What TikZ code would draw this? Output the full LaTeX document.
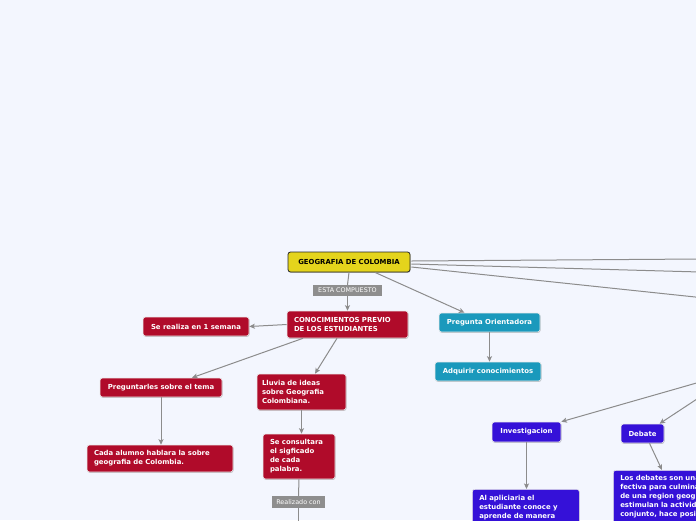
\documentclass[tikz,border=0pt]{standalone}
\usepackage{fontspec}
\setmainfont{DejaVu Sans}
\usetikzlibrary{arrows.meta,shadows,calc}
\definecolor{bgc}{HTML}{F3F6FE}
\definecolor{yel}{HTML}{E4D41C}
\definecolor{redc}{HTML}{B00B2A}
\definecolor{teal}{HTML}{1A99BC}
\definecolor{bluec}{HTML}{3511D8}
\definecolor{linec}{HTML}{8C8C8C}
\definecolor{lblc}{HTML}{8E8E8E}
\tikzset{
  box/.style={rectangle, rounded corners=2.5pt, draw=white!92!black, line width=0.6pt,
    text=white, inner xsep=0pt, inner ysep=0pt,
    font=\fontsize{6.9}{9}\selectfont\bfseries,
    drop shadow={shadow xshift=0.5pt,shadow yshift=-0.8pt,opacity=0.35,fill=black!70}},
  redbox/.style={box, fill=redc},
  tealbox/.style={box, fill=teal},
  bluebox/.style={box, fill=bluec},
  topbox/.style={box, fill=yel, draw=black!85, line width=0.8pt, text=black},
  lbl/.style={rectangle, fill=lblc, text=white, inner sep=0pt,
    font=\fontsize{6.4}{7}\selectfont},
  conn/.style={draw=linec, line width=1pt},
  arr/.style={conn, -{Stealth[length=5.5pt,width=5pt,inset=1.2pt]}},
}
\begin{document}
\begin{tikzpicture}[x=1pt,y=-1pt]
\useasboundingbox (0,0) rectangle (696,520);
\fill[bgc] (0,0) rectangle (696,520);
\clip (0,0) rectangle (696,520);

% nodes
\node[topbox, minimum width=122pt, minimum height=20pt, align=center] (geo) at (349,262) {GEOGRAFIA DE COLOMBIA};
\node[lbl, minimum width=69pt, minimum height=11pt] (lbl1) at (347.5,290.5) {ESTA COMPUESTO};
\node[redbox, minimum width=121pt, minimum height=27pt, text width=107pt, align=left] (con) at (347.5,324.5) {CONOCIMIENTOS PREVIO\\DE LOS ESTUDIANTES};
\node[redbox, minimum width=106pt, minimum height=19pt, align=center] (sem) at (196,326.5) {Se realiza en 1 semana};
\node[tealbox, minimum width=101pt, minimum height=19pt, align=center] (preg) at (489.5,322.5) {Pregunta Orientadora};
\node[tealbox, minimum width=106pt, minimum height=19pt, align=center] (adq) at (488,371.5) {Adquirir conocimientos};
\node[redbox, minimum width=122pt, minimum height=19pt, align=center] (pre) at (161,387.5) {Preguntarles sobre el tema};
\node[redbox, minimum width=89pt, minimum height=36pt, text width=79pt, align=left] (llu) at (301.5,392) {Lluvia de ideas\\sobre Geografia\\Colombiana.};
\node[redbox, minimum width=146pt, minimum height=27pt, text width=132pt, align=left] (cada) at (160,458.5) {Cada alumno hablara la sobre\\geografia de Colombia.};
\node[redbox, minimum width=72pt, minimum height=45pt, text width=58pt, align=left] (cons) at (299,456.5) {Se consultara\\el sigficado\\de cada\\palabra.};
\node[lbl, minimum width=53pt, minimum height=12pt] (lbl2) at (298.5,502) {Realizado con};
\node[bluebox, minimum width=69pt, minimum height=20pt, align=center] (inv) at (526.5,432) {Investigacion};
\node[bluebox, minimum width=107pt, inner ysep=6pt, text width=93pt, align=left, anchor=north west] (alap) at (472,489) {Al apliciaria el\\estudiante conoce y\\aprende de manera\rule[-25pt]{0pt}{0pt}};
\node[bluebox, minimum width=43pt, minimum height=19pt, align=center] (deb) at (642.5,433.5) {Debate};
\node[bluebox, minimum width=150pt, inner ysep=5pt, text width=136pt, align=left, anchor=north west] (los) at (613,470) {Los debates son una e-\\fectiva para culminar el estudio\\de una region geografica,\\estimulan la actividad en\\conjunto, hace posible\rule[-25pt]{0pt}{0pt}};

% off-canvas ends
\coordinate (r1) at (700,259);
\coordinate (r2) at (700,272);
\coordinate (r3) at (700,297.5);
\coordinate (r4) at (700,382);
\coordinate (r5) at (700,397);
\coordinate (bot) at (298.5,525);

% connectors
\draw[conn] (geo.south) -- (lbl1.north);
\draw[arr] (lbl1.south) -- (con.north);
\draw[arr] (con.west) -- (sem.east);
\draw[arr] ($(geo.south)+(26,0)$) -- ($(preg.north)+(-25,0)$);
\draw[arr] (preg.south) -- (adq.north -| preg.south);
\draw[arr] ($(con.south)+(-44.5,0)$) -- ($(pre.north)+(31,0)$);
\draw[arr] ($(con.south)+(-10.5,0)$) -- ($(llu.north)+(13.5,0)$);
\draw[arr] (pre.south) -- (cada.north -| pre.south);
\draw[arr] (llu.south) -- (cons.north -| llu.south);
\draw[conn] (cons.south) -- (lbl2.north);
\draw[conn] (lbl2.south) -- (bot);
\draw[conn] ($(geo.east)+(1,-1)$) -- (r1);
\draw[conn] ($(geo.east)+(1,2)$) -- (r2);
\draw[conn] ($(geo.east)+(1,5)$) -- (r3);
\draw[arr] (r4) -- (inv.north east);
\draw[arr] (r5) -- ($(deb.north)+(17,0)$);
\draw[arr] (inv.south) -- (alap.north -| inv.south);
\draw[arr] ($(deb.south)+(7,0)$) -- ($(los.north west)+(49,0)$);
\end{tikzpicture}
\end{document}
